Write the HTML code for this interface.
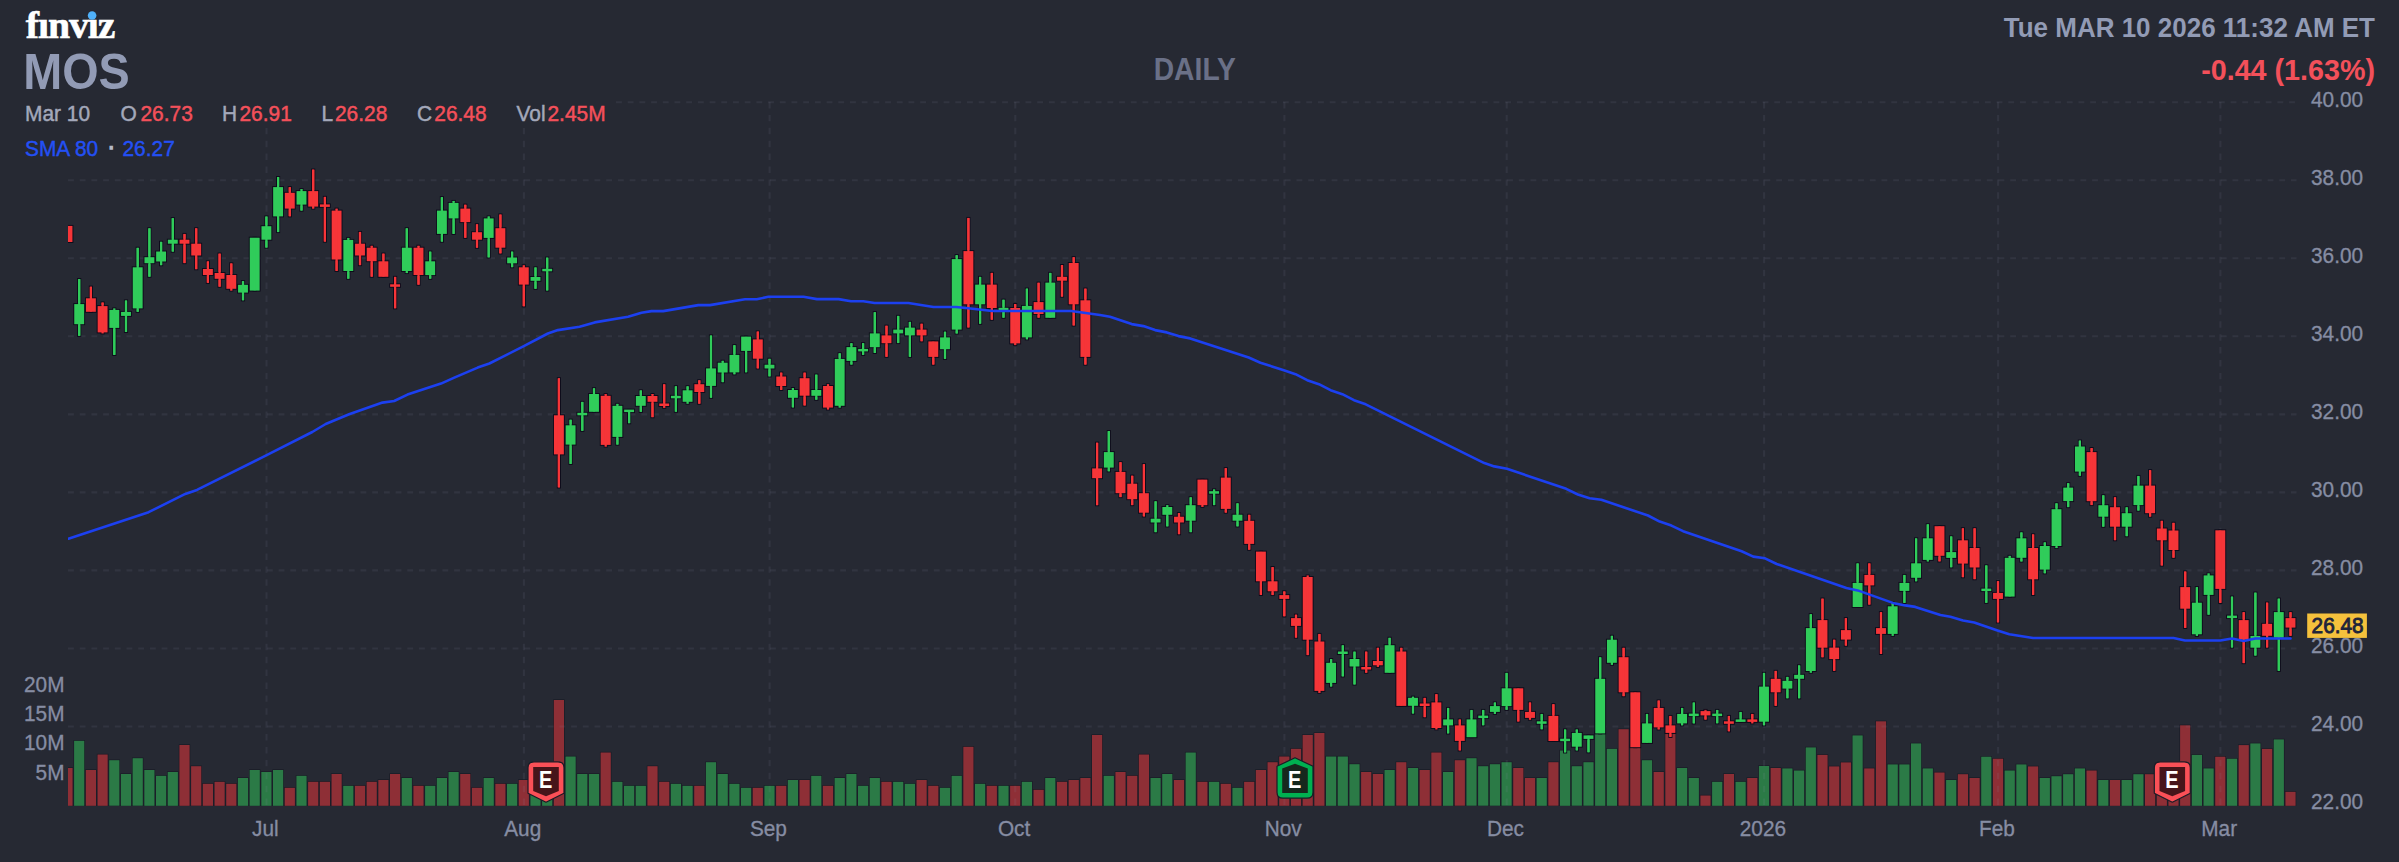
<!DOCTYPE html>
<html lang="en"><head><meta charset="utf-8"><title>MOS Daily Chart - finviz</title>
<style>html,body{margin:0;padding:0;background:#262933;}body{width:2399px;height:862px;overflow:hidden;font-family:"Liberation Sans",Arial,sans-serif;}svg{display:block}</style>
</head><body>
<svg width="2399" height="862" viewBox="0 0 2399 862" font-family="'Liberation Sans', Arial, sans-serif">
<rect width="2399" height="862" fill="#262933"/>
<defs><clipPath id="plot"><rect x="68" y="95" width="2232" height="711"/></clipPath></defs>
<g clip-path="url(#plot)">
<g stroke="#171924" stroke-width="1.2" paint-order="stroke">
<rect x="62.4" y="768.0" width="10.2" height="37.8" fill="#8e2f36"/>
<rect x="74.1" y="740.8" width="10.2" height="65.0" fill="#2b7a46"/>
<rect x="85.8" y="770.0" width="10.2" height="35.8" fill="#8e2f36"/>
<rect x="97.5" y="754.5" width="10.2" height="51.3" fill="#8e2f36"/>
<rect x="109.2" y="760.2" width="10.2" height="45.5" fill="#2b7a46"/>
<rect x="120.9" y="774.0" width="10.2" height="31.8" fill="#2b7a46"/>
<rect x="132.6" y="758.2" width="10.2" height="47.5" fill="#2b7a46"/>
<rect x="144.3" y="770.0" width="10.2" height="35.8" fill="#2b7a46"/>
<rect x="156.0" y="775.8" width="10.2" height="30.0" fill="#2b7a46"/>
<rect x="167.7" y="772.0" width="10.2" height="33.8" fill="#2b7a46"/>
<rect x="179.4" y="745.0" width="10.2" height="60.8" fill="#8e2f36"/>
<rect x="191.1" y="766.2" width="10.2" height="39.5" fill="#8e2f36"/>
<rect x="202.8" y="783.8" width="10.2" height="22.0" fill="#8e2f36"/>
<rect x="214.5" y="781.8" width="10.2" height="24.0" fill="#8e2f36"/>
<rect x="226.2" y="783.8" width="10.2" height="22.0" fill="#8e2f36"/>
<rect x="237.9" y="778.0" width="10.2" height="27.8" fill="#2b7a46"/>
<rect x="249.6" y="770.0" width="10.2" height="35.8" fill="#2b7a46"/>
<rect x="261.3" y="772.0" width="10.2" height="33.8" fill="#2b7a46"/>
<rect x="273.0" y="770.0" width="10.2" height="35.8" fill="#2b7a46"/>
<rect x="284.7" y="787.8" width="10.2" height="18.0" fill="#8e2f36"/>
<rect x="296.4" y="775.8" width="10.2" height="30.0" fill="#2b7a46"/>
<rect x="308.1" y="781.8" width="10.2" height="24.0" fill="#8e2f36"/>
<rect x="319.8" y="781.8" width="10.2" height="24.0" fill="#8e2f36"/>
<rect x="331.5" y="774.0" width="10.2" height="31.8" fill="#8e2f36"/>
<rect x="343.2" y="785.8" width="10.2" height="20.0" fill="#2b7a46"/>
<rect x="354.9" y="785.8" width="10.2" height="20.0" fill="#8e2f36"/>
<rect x="366.6" y="781.8" width="10.2" height="24.0" fill="#8e2f36"/>
<rect x="378.3" y="780.0" width="10.2" height="25.8" fill="#8e2f36"/>
<rect x="390.0" y="774.0" width="10.2" height="31.8" fill="#8e2f36"/>
<rect x="401.7" y="778.0" width="10.2" height="27.8" fill="#2b7a46"/>
<rect x="413.4" y="785.8" width="10.2" height="20.0" fill="#8e2f36"/>
<rect x="425.1" y="785.8" width="10.2" height="20.0" fill="#2b7a46"/>
<rect x="436.8" y="778.0" width="10.2" height="27.8" fill="#2b7a46"/>
<rect x="448.5" y="772.0" width="10.2" height="33.8" fill="#2b7a46"/>
<rect x="460.2" y="774.0" width="10.2" height="31.8" fill="#8e2f36"/>
<rect x="471.9" y="787.8" width="10.2" height="18.0" fill="#8e2f36"/>
<rect x="483.6" y="778.0" width="10.2" height="27.8" fill="#2b7a46"/>
<rect x="495.3" y="783.8" width="10.2" height="22.0" fill="#8e2f36"/>
<rect x="507.0" y="783.8" width="10.2" height="22.0" fill="#2b7a46"/>
<rect x="518.7" y="780.0" width="10.2" height="25.8" fill="#8e2f36"/>
<rect x="530.4" y="782.5" width="10.2" height="23.3" fill="#2b7a46"/>
<rect x="542.1" y="782.5" width="10.2" height="23.3" fill="#2b7a46"/>
<rect x="553.8" y="700.0" width="10.2" height="105.8" fill="#8e2f36"/>
<rect x="565.5" y="756.5" width="10.2" height="49.3" fill="#2b7a46"/>
<rect x="577.2" y="774.0" width="10.2" height="31.8" fill="#2b7a46"/>
<rect x="588.9" y="774.0" width="10.2" height="31.8" fill="#2b7a46"/>
<rect x="600.6" y="752.5" width="10.2" height="53.3" fill="#8e2f36"/>
<rect x="612.3" y="781.8" width="10.2" height="24.0" fill="#2b7a46"/>
<rect x="624.0" y="785.8" width="10.2" height="20.0" fill="#2b7a46"/>
<rect x="635.7" y="785.8" width="10.2" height="20.0" fill="#2b7a46"/>
<rect x="647.4" y="766.2" width="10.2" height="39.5" fill="#8e2f36"/>
<rect x="659.1" y="781.8" width="10.2" height="24.0" fill="#8e2f36"/>
<rect x="670.8" y="783.8" width="10.2" height="22.0" fill="#2b7a46"/>
<rect x="682.5" y="785.8" width="10.2" height="20.0" fill="#2b7a46"/>
<rect x="694.2" y="785.8" width="10.2" height="20.0" fill="#8e2f36"/>
<rect x="705.9" y="762.2" width="10.2" height="43.5" fill="#2b7a46"/>
<rect x="717.6" y="774.0" width="10.2" height="31.8" fill="#2b7a46"/>
<rect x="729.3" y="783.8" width="10.2" height="22.0" fill="#2b7a46"/>
<rect x="741.0" y="787.8" width="10.2" height="18.0" fill="#2b7a46"/>
<rect x="752.7" y="787.8" width="10.2" height="18.0" fill="#8e2f36"/>
<rect x="764.4" y="785.8" width="10.2" height="20.0" fill="#2b7a46"/>
<rect x="776.1" y="785.8" width="10.2" height="20.0" fill="#8e2f36"/>
<rect x="787.8" y="780.0" width="10.2" height="25.8" fill="#2b7a46"/>
<rect x="799.5" y="780.0" width="10.2" height="25.8" fill="#8e2f36"/>
<rect x="811.2" y="775.8" width="10.2" height="30.0" fill="#2b7a46"/>
<rect x="822.9" y="785.8" width="10.2" height="20.0" fill="#8e2f36"/>
<rect x="834.6" y="778.0" width="10.2" height="27.8" fill="#2b7a46"/>
<rect x="846.3" y="774.0" width="10.2" height="31.8" fill="#2b7a46"/>
<rect x="858.0" y="785.8" width="10.2" height="20.0" fill="#2b7a46"/>
<rect x="869.7" y="778.0" width="10.2" height="27.8" fill="#2b7a46"/>
<rect x="881.4" y="781.8" width="10.2" height="24.0" fill="#8e2f36"/>
<rect x="893.1" y="781.8" width="10.2" height="24.0" fill="#2b7a46"/>
<rect x="904.8" y="783.8" width="10.2" height="22.0" fill="#2b7a46"/>
<rect x="916.5" y="780.0" width="10.2" height="25.8" fill="#8e2f36"/>
<rect x="928.2" y="785.8" width="10.2" height="20.0" fill="#8e2f36"/>
<rect x="939.9" y="787.8" width="10.2" height="18.0" fill="#2b7a46"/>
<rect x="951.6" y="775.8" width="10.2" height="30.0" fill="#2b7a46"/>
<rect x="963.3" y="746.8" width="10.2" height="59.0" fill="#8e2f36"/>
<rect x="975.0" y="783.8" width="10.2" height="22.0" fill="#2b7a46"/>
<rect x="986.7" y="785.8" width="10.2" height="20.0" fill="#8e2f36"/>
<rect x="998.4" y="785.8" width="10.2" height="20.0" fill="#2b7a46"/>
<rect x="1010.1" y="785.8" width="10.2" height="20.0" fill="#8e2f36"/>
<rect x="1021.8" y="781.8" width="10.2" height="24.0" fill="#2b7a46"/>
<rect x="1033.5" y="789.8" width="10.2" height="16.0" fill="#8e2f36"/>
<rect x="1045.2" y="778.0" width="10.2" height="27.8" fill="#2b7a46"/>
<rect x="1056.9" y="781.8" width="10.2" height="24.0" fill="#8e2f36"/>
<rect x="1068.6" y="780.0" width="10.2" height="25.8" fill="#8e2f36"/>
<rect x="1080.3" y="778.0" width="10.2" height="27.8" fill="#8e2f36"/>
<rect x="1092.0" y="735.0" width="10.2" height="70.8" fill="#8e2f36"/>
<rect x="1103.7" y="775.8" width="10.2" height="30.0" fill="#2b7a46"/>
<rect x="1115.4" y="772.0" width="10.2" height="33.8" fill="#8e2f36"/>
<rect x="1127.1" y="775.8" width="10.2" height="30.0" fill="#8e2f36"/>
<rect x="1138.8" y="754.5" width="10.2" height="51.3" fill="#8e2f36"/>
<rect x="1150.5" y="778.0" width="10.2" height="27.8" fill="#2b7a46"/>
<rect x="1162.2" y="774.0" width="10.2" height="31.8" fill="#2b7a46"/>
<rect x="1173.9" y="780.0" width="10.2" height="25.8" fill="#8e2f36"/>
<rect x="1185.6" y="752.5" width="10.2" height="53.3" fill="#2b7a46"/>
<rect x="1197.3" y="781.8" width="10.2" height="24.0" fill="#8e2f36"/>
<rect x="1209.0" y="781.8" width="10.2" height="24.0" fill="#2b7a46"/>
<rect x="1220.7" y="783.8" width="10.2" height="22.0" fill="#8e2f36"/>
<rect x="1232.4" y="787.8" width="10.2" height="18.0" fill="#2b7a46"/>
<rect x="1244.1" y="781.8" width="10.2" height="24.0" fill="#8e2f36"/>
<rect x="1255.8" y="770.0" width="10.2" height="35.8" fill="#8e2f36"/>
<rect x="1267.5" y="762.2" width="10.2" height="43.5" fill="#8e2f36"/>
<rect x="1279.2" y="756.5" width="10.2" height="49.3" fill="#8e2f36"/>
<rect x="1290.9" y="748.8" width="10.2" height="57.0" fill="#8e2f36"/>
<rect x="1302.6" y="735.0" width="10.2" height="70.8" fill="#8e2f36"/>
<rect x="1314.3" y="733.0" width="10.2" height="72.8" fill="#8e2f36"/>
<rect x="1326.0" y="756.5" width="10.2" height="49.3" fill="#2b7a46"/>
<rect x="1337.7" y="756.5" width="10.2" height="49.3" fill="#2b7a46"/>
<rect x="1349.4" y="764.2" width="10.2" height="41.5" fill="#2b7a46"/>
<rect x="1361.1" y="772.0" width="10.2" height="33.8" fill="#8e2f36"/>
<rect x="1372.8" y="774.0" width="10.2" height="31.8" fill="#8e2f36"/>
<rect x="1384.5" y="770.0" width="10.2" height="35.8" fill="#2b7a46"/>
<rect x="1396.2" y="762.2" width="10.2" height="43.5" fill="#8e2f36"/>
<rect x="1407.9" y="768.0" width="10.2" height="37.8" fill="#2b7a46"/>
<rect x="1419.6" y="770.0" width="10.2" height="35.8" fill="#8e2f36"/>
<rect x="1431.3" y="752.5" width="10.2" height="53.3" fill="#8e2f36"/>
<rect x="1443.0" y="772.0" width="10.2" height="33.8" fill="#2b7a46"/>
<rect x="1454.7" y="760.2" width="10.2" height="45.5" fill="#8e2f36"/>
<rect x="1466.4" y="758.2" width="10.2" height="47.5" fill="#2b7a46"/>
<rect x="1478.1" y="766.2" width="10.2" height="39.5" fill="#2b7a46"/>
<rect x="1489.8" y="764.2" width="10.2" height="41.5" fill="#2b7a46"/>
<rect x="1501.5" y="762.2" width="10.2" height="43.5" fill="#2b7a46"/>
<rect x="1513.2" y="768.0" width="10.2" height="37.8" fill="#8e2f36"/>
<rect x="1524.9" y="778.0" width="10.2" height="27.8" fill="#8e2f36"/>
<rect x="1536.6" y="778.0" width="10.2" height="27.8" fill="#2b7a46"/>
<rect x="1548.3" y="762.2" width="10.2" height="43.5" fill="#8e2f36"/>
<rect x="1560.0" y="750.5" width="10.2" height="55.3" fill="#2b7a46"/>
<rect x="1571.7" y="766.2" width="10.2" height="39.5" fill="#2b7a46"/>
<rect x="1583.4" y="762.2" width="10.2" height="43.5" fill="#2b7a46"/>
<rect x="1595.1" y="732.5" width="10.2" height="73.3" fill="#2b7a46"/>
<rect x="1606.8" y="748.8" width="10.2" height="57.0" fill="#2b7a46"/>
<rect x="1618.5" y="729.2" width="10.2" height="76.5" fill="#8e2f36"/>
<rect x="1630.2" y="745.0" width="10.2" height="60.8" fill="#8e2f36"/>
<rect x="1641.9" y="760.2" width="10.2" height="45.5" fill="#2b7a46"/>
<rect x="1653.6" y="772.0" width="10.2" height="33.8" fill="#8e2f36"/>
<rect x="1665.3" y="733.8" width="10.2" height="72.0" fill="#8e2f36"/>
<rect x="1677.0" y="768.0" width="10.2" height="37.8" fill="#2b7a46"/>
<rect x="1688.7" y="778.0" width="10.2" height="27.8" fill="#2b7a46"/>
<rect x="1700.4" y="795.5" width="10.2" height="10.3" fill="#8e2f36"/>
<rect x="1712.1" y="781.8" width="10.2" height="24.0" fill="#2b7a46"/>
<rect x="1723.8" y="774.0" width="10.2" height="31.8" fill="#8e2f36"/>
<rect x="1735.5" y="781.8" width="10.2" height="24.0" fill="#2b7a46"/>
<rect x="1747.2" y="778.0" width="10.2" height="27.8" fill="#8e2f36"/>
<rect x="1758.9" y="766.0" width="10.2" height="39.8" fill="#2b7a46"/>
<rect x="1770.6" y="768.0" width="10.2" height="37.8" fill="#8e2f36"/>
<rect x="1782.3" y="768.4" width="10.2" height="37.4" fill="#2b7a46"/>
<rect x="1794.0" y="770.5" width="10.2" height="35.3" fill="#2b7a46"/>
<rect x="1805.7" y="747.4" width="10.2" height="58.4" fill="#2b7a46"/>
<rect x="1817.4" y="754.9" width="10.2" height="50.9" fill="#8e2f36"/>
<rect x="1829.1" y="766.4" width="10.2" height="39.4" fill="#8e2f36"/>
<rect x="1840.8" y="762.4" width="10.2" height="43.4" fill="#8e2f36"/>
<rect x="1852.5" y="735.4" width="10.2" height="70.4" fill="#2b7a46"/>
<rect x="1864.2" y="768.4" width="10.2" height="37.4" fill="#8e2f36"/>
<rect x="1875.9" y="721.3" width="10.2" height="84.5" fill="#8e2f36"/>
<rect x="1887.6" y="764.4" width="10.2" height="41.4" fill="#2b7a46"/>
<rect x="1899.3" y="764.4" width="10.2" height="41.4" fill="#2b7a46"/>
<rect x="1911.0" y="743.4" width="10.2" height="62.4" fill="#2b7a46"/>
<rect x="1922.7" y="768.4" width="10.2" height="37.4" fill="#2b7a46"/>
<rect x="1934.4" y="772.5" width="10.2" height="33.3" fill="#8e2f36"/>
<rect x="1946.1" y="780.0" width="10.2" height="25.8" fill="#2b7a46"/>
<rect x="1957.8" y="774.2" width="10.2" height="31.6" fill="#8e2f36"/>
<rect x="1969.5" y="778.0" width="10.2" height="27.8" fill="#8e2f36"/>
<rect x="1981.2" y="756.7" width="10.2" height="49.1" fill="#2b7a46"/>
<rect x="1992.9" y="758.7" width="10.2" height="47.1" fill="#8e2f36"/>
<rect x="2004.6" y="770.5" width="10.2" height="35.3" fill="#2b7a46"/>
<rect x="2016.3" y="764.4" width="10.2" height="41.4" fill="#2b7a46"/>
<rect x="2028.0" y="766.4" width="10.2" height="39.4" fill="#8e2f36"/>
<rect x="2039.7" y="778.0" width="10.2" height="27.8" fill="#2b7a46"/>
<rect x="2051.4" y="776.2" width="10.2" height="29.6" fill="#2b7a46"/>
<rect x="2063.1" y="774.2" width="10.2" height="31.6" fill="#2b7a46"/>
<rect x="2074.8" y="768.4" width="10.2" height="37.4" fill="#2b7a46"/>
<rect x="2086.5" y="770.5" width="10.2" height="35.3" fill="#8e2f36"/>
<rect x="2098.2" y="780.0" width="10.2" height="25.8" fill="#2b7a46"/>
<rect x="2109.9" y="780.0" width="10.2" height="25.8" fill="#8e2f36"/>
<rect x="2121.6" y="780.0" width="10.2" height="25.8" fill="#2b7a46"/>
<rect x="2133.3" y="774.2" width="10.2" height="31.6" fill="#2b7a46"/>
<rect x="2145.0" y="774.2" width="10.2" height="31.6" fill="#8e2f36"/>
<rect x="2156.7" y="775.5" width="10.2" height="30.3" fill="#8e2f36"/>
<rect x="2168.4" y="775.5" width="10.2" height="30.3" fill="#8e2f36"/>
<rect x="2180.1" y="725.3" width="10.2" height="80.5" fill="#8e2f36"/>
<rect x="2191.8" y="754.9" width="10.2" height="50.9" fill="#2b7a46"/>
<rect x="2203.5" y="768.4" width="10.2" height="37.4" fill="#2b7a46"/>
<rect x="2215.2" y="756.7" width="10.2" height="49.1" fill="#8e2f36"/>
<rect x="2226.9" y="758.7" width="10.2" height="47.1" fill="#2b7a46"/>
<rect x="2238.6" y="745.1" width="10.2" height="60.7" fill="#8e2f36"/>
<rect x="2250.3" y="743.4" width="10.2" height="62.4" fill="#2b7a46"/>
<rect x="2262.0" y="748.9" width="10.2" height="56.9" fill="#8e2f36"/>
<rect x="2273.7" y="739.4" width="10.2" height="66.4" fill="#2b7a46"/>
<rect x="2285.4" y="791.8" width="10.2" height="14.0" fill="#8e2f36"/>
</g>
<g stroke="#8b91aa" stroke-opacity="0.115" stroke-width="2.1" fill="none">
<path d="M616 102.2H2296.5" stroke-dasharray="5.85 5.85"/>
<path d="M68 180.3H2296.5" stroke-dasharray="5.85 5.85"/>
<path d="M68 258.3H2296.5" stroke-dasharray="5.85 5.85"/>
<path d="M68 336.3H2296.5" stroke-dasharray="5.85 5.85"/>
<path d="M68 414.4H2296.5" stroke-dasharray="5.85 5.85"/>
<path d="M68 492.4H2296.5" stroke-dasharray="5.85 5.85"/>
<path d="M68 570.4H2296.5" stroke-dasharray="5.85 5.85"/>
<path d="M68 648.5H2296.5" stroke-dasharray="5.85 5.85"/>
<path d="M68 726.5H2296.5" stroke-dasharray="5.85 5.85"/>
<path d="M266.5 128V805" stroke-dasharray="6.45 6.45" stroke-dashoffset="0.2"/>
<path d="M523.9 128V805" stroke-dasharray="6.45 6.45" stroke-dashoffset="0.2"/>
<path d="M769.6 102V805" stroke-dasharray="6.45 6.45" stroke-dashoffset="0.0"/>
<path d="M1015.3 102V805" stroke-dasharray="6.45 6.45" stroke-dashoffset="0.0"/>
<path d="M1284.4 102V805" stroke-dasharray="6.45 6.45" stroke-dashoffset="0.0"/>
<path d="M1506.7 102V805" stroke-dasharray="6.45 6.45" stroke-dashoffset="0.0"/>
<path d="M1764.1 102V805" stroke-dasharray="6.45 6.45" stroke-dashoffset="0.0"/>
<path d="M1998.1 102V805" stroke-dasharray="6.45 6.45" stroke-dashoffset="0.0"/>
<path d="M2220.4 102V805" stroke-dasharray="6.45 6.45" stroke-dashoffset="0.0"/>
</g>
<g stroke="#0e0b1b" stroke-width="1.9" paint-order="stroke">
<rect x="62.55" y="225.9" width="9.9" height="16.1" fill="#f63538"/>
<rect x="78.10" y="279.0" width="2.2" height="56.9" fill="#30cc5a"/>
<rect x="74.25" y="304.1" width="9.9" height="20.1" fill="#30cc5a"/>
<rect x="78.10" y="279.3" width="2.2" height="56.3" fill="#30cc5a" stroke="none"/>
<rect x="89.80" y="286.6" width="2.2" height="25.3" fill="#f63538"/>
<rect x="85.95" y="298.3" width="9.9" height="13.5" fill="#f63538"/>
<rect x="89.80" y="286.9" width="2.2" height="24.7" fill="#f63538" stroke="none"/>
<rect x="101.50" y="302.4" width="2.2" height="31.1" fill="#f63538"/>
<rect x="97.65" y="306.1" width="9.9" height="26.3" fill="#f63538"/>
<rect x="101.50" y="302.7" width="2.2" height="30.5" fill="#f63538" stroke="none"/>
<rect x="113.20" y="308.4" width="2.2" height="46.6" fill="#30cc5a"/>
<rect x="109.35" y="309.9" width="9.9" height="18.0" fill="#30cc5a"/>
<rect x="113.20" y="308.7" width="2.2" height="46.0" fill="#30cc5a" stroke="none"/>
<rect x="124.90" y="300.4" width="2.2" height="31.6" fill="#30cc5a"/>
<rect x="121.05" y="311.9" width="9.9" height="4.0" fill="#30cc5a"/>
<rect x="124.90" y="300.7" width="2.2" height="31.0" fill="#30cc5a" stroke="none"/>
<rect x="136.60" y="247.7" width="2.2" height="64.2" fill="#30cc5a"/>
<rect x="132.75" y="267.3" width="9.9" height="41.1" fill="#30cc5a"/>
<rect x="136.60" y="248.0" width="2.2" height="63.6" fill="#30cc5a" stroke="none"/>
<rect x="148.30" y="228.2" width="2.2" height="48.6" fill="#30cc5a"/>
<rect x="144.45" y="257.2" width="9.9" height="6.0" fill="#30cc5a"/>
<rect x="148.30" y="228.5" width="2.2" height="48.0" fill="#30cc5a" stroke="none"/>
<rect x="160.00" y="241.7" width="2.2" height="23.6" fill="#30cc5a"/>
<rect x="156.15" y="251.5" width="9.9" height="10.0" fill="#30cc5a"/>
<rect x="160.00" y="242.0" width="2.2" height="23.0" fill="#30cc5a" stroke="none"/>
<rect x="171.70" y="218.1" width="2.2" height="33.6" fill="#30cc5a"/>
<rect x="167.85" y="239.7" width="9.9" height="4.0" fill="#30cc5a"/>
<rect x="171.70" y="218.4" width="2.2" height="33.0" fill="#30cc5a" stroke="none"/>
<rect x="183.40" y="233.9" width="2.2" height="29.3" fill="#f63538"/>
<rect x="179.55" y="239.7" width="9.9" height="4.0" fill="#f63538"/>
<rect x="183.40" y="234.2" width="2.2" height="28.7" fill="#f63538" stroke="none"/>
<rect x="195.10" y="228.2" width="2.2" height="41.1" fill="#f63538"/>
<rect x="191.25" y="243.7" width="9.9" height="11.8" fill="#f63538"/>
<rect x="195.10" y="228.5" width="2.2" height="40.5" fill="#f63538" stroke="none"/>
<rect x="206.80" y="261.3" width="2.2" height="21.6" fill="#f63538"/>
<rect x="202.95" y="269.0" width="9.9" height="6.0" fill="#f63538"/>
<rect x="206.80" y="261.6" width="2.2" height="21.0" fill="#f63538" stroke="none"/>
<rect x="218.50" y="253.5" width="2.2" height="33.3" fill="#f63538"/>
<rect x="214.65" y="273.0" width="9.9" height="5.8" fill="#f63538"/>
<rect x="218.50" y="253.8" width="2.2" height="32.7" fill="#f63538" stroke="none"/>
<rect x="230.20" y="263.3" width="2.2" height="27.3" fill="#f63538"/>
<rect x="226.35" y="275.0" width="9.9" height="13.8" fill="#f63538"/>
<rect x="230.20" y="263.6" width="2.2" height="26.7" fill="#f63538" stroke="none"/>
<rect x="241.90" y="281.1" width="2.2" height="19.3" fill="#30cc5a"/>
<rect x="238.05" y="284.8" width="9.9" height="7.8" fill="#30cc5a"/>
<rect x="241.90" y="281.4" width="2.2" height="18.7" fill="#30cc5a" stroke="none"/>
<rect x="253.60" y="237.7" width="2.2" height="52.9" fill="#30cc5a"/>
<rect x="249.75" y="237.7" width="9.9" height="52.9" fill="#30cc5a"/>
<rect x="253.60" y="238.0" width="2.2" height="52.3" fill="#30cc5a" stroke="none"/>
<rect x="265.30" y="216.4" width="2.2" height="31.3" fill="#30cc5a"/>
<rect x="261.45" y="226.2" width="9.9" height="13.5" fill="#30cc5a"/>
<rect x="265.30" y="216.7" width="2.2" height="30.7" fill="#30cc5a" stroke="none"/>
<rect x="277.00" y="177.0" width="2.2" height="55.1" fill="#30cc5a"/>
<rect x="273.15" y="187.1" width="9.9" height="29.3" fill="#30cc5a"/>
<rect x="277.00" y="177.3" width="2.2" height="54.5" fill="#30cc5a" stroke="none"/>
<rect x="288.70" y="187.1" width="2.2" height="29.3" fill="#f63538"/>
<rect x="284.85" y="192.8" width="9.9" height="15.8" fill="#f63538"/>
<rect x="288.70" y="187.4" width="2.2" height="28.7" fill="#f63538" stroke="none"/>
<rect x="300.40" y="189.1" width="2.2" height="21.6" fill="#30cc5a"/>
<rect x="296.55" y="191.1" width="9.9" height="13.5" fill="#30cc5a"/>
<rect x="300.40" y="189.4" width="2.2" height="21.0" fill="#30cc5a" stroke="none"/>
<rect x="312.10" y="169.5" width="2.2" height="39.1" fill="#f63538"/>
<rect x="308.25" y="191.1" width="9.9" height="15.5" fill="#f63538"/>
<rect x="312.10" y="169.8" width="2.2" height="38.5" fill="#f63538" stroke="none"/>
<rect x="323.80" y="196.8" width="2.2" height="44.9" fill="#f63538"/>
<rect x="319.95" y="204.4" width="9.9" height="2.5" fill="#f63538"/>
<rect x="323.80" y="197.1" width="2.2" height="44.3" fill="#f63538" stroke="none"/>
<rect x="335.50" y="208.6" width="2.2" height="62.4" fill="#f63538"/>
<rect x="331.65" y="210.6" width="9.9" height="48.9" fill="#f63538"/>
<rect x="335.50" y="208.9" width="2.2" height="61.8" fill="#f63538" stroke="none"/>
<rect x="347.20" y="237.9" width="2.2" height="40.9" fill="#30cc5a"/>
<rect x="343.35" y="239.9" width="9.9" height="31.1" fill="#30cc5a"/>
<rect x="347.20" y="238.2" width="2.2" height="40.3" fill="#30cc5a" stroke="none"/>
<rect x="358.90" y="231.9" width="2.2" height="33.3" fill="#f63538"/>
<rect x="355.05" y="243.7" width="9.9" height="11.8" fill="#f63538"/>
<rect x="358.90" y="232.2" width="2.2" height="32.7" fill="#f63538" stroke="none"/>
<rect x="370.60" y="245.7" width="2.2" height="31.1" fill="#f63538"/>
<rect x="366.75" y="247.7" width="9.9" height="13.5" fill="#f63538"/>
<rect x="370.60" y="246.0" width="2.2" height="30.5" fill="#f63538" stroke="none"/>
<rect x="382.30" y="253.5" width="2.2" height="23.3" fill="#f63538"/>
<rect x="378.45" y="261.3" width="9.9" height="15.5" fill="#f63538"/>
<rect x="382.30" y="253.8" width="2.2" height="22.7" fill="#f63538" stroke="none"/>
<rect x="394.00" y="276.8" width="2.2" height="31.6" fill="#f63538"/>
<rect x="390.15" y="284.3" width="9.9" height="2.5" fill="#f63538"/>
<rect x="394.00" y="277.1" width="2.2" height="31.0" fill="#f63538" stroke="none"/>
<rect x="405.70" y="228.2" width="2.2" height="44.9" fill="#30cc5a"/>
<rect x="401.85" y="247.7" width="9.9" height="23.3" fill="#30cc5a"/>
<rect x="405.70" y="228.5" width="2.2" height="44.3" fill="#30cc5a" stroke="none"/>
<rect x="417.40" y="245.7" width="2.2" height="39.1" fill="#f63538"/>
<rect x="413.55" y="247.7" width="9.9" height="27.3" fill="#f63538"/>
<rect x="417.40" y="246.0" width="2.2" height="38.5" fill="#f63538" stroke="none"/>
<rect x="429.10" y="251.5" width="2.2" height="27.3" fill="#30cc5a"/>
<rect x="425.25" y="261.3" width="9.9" height="13.8" fill="#30cc5a"/>
<rect x="429.10" y="251.8" width="2.2" height="26.7" fill="#30cc5a" stroke="none"/>
<rect x="440.80" y="197.1" width="2.2" height="44.6" fill="#30cc5a"/>
<rect x="436.95" y="210.6" width="9.9" height="23.3" fill="#30cc5a"/>
<rect x="440.80" y="197.4" width="2.2" height="44.0" fill="#30cc5a" stroke="none"/>
<rect x="452.50" y="200.9" width="2.2" height="33.1" fill="#30cc5a"/>
<rect x="448.65" y="202.9" width="9.9" height="15.5" fill="#30cc5a"/>
<rect x="452.50" y="201.2" width="2.2" height="32.5" fill="#30cc5a" stroke="none"/>
<rect x="464.20" y="204.6" width="2.2" height="33.3" fill="#f63538"/>
<rect x="460.35" y="208.6" width="9.9" height="13.5" fill="#f63538"/>
<rect x="464.20" y="204.9" width="2.2" height="32.7" fill="#f63538" stroke="none"/>
<rect x="475.90" y="224.2" width="2.2" height="23.6" fill="#f63538"/>
<rect x="472.05" y="232.2" width="9.9" height="7.5" fill="#f63538"/>
<rect x="475.90" y="224.5" width="2.2" height="23.0" fill="#f63538" stroke="none"/>
<rect x="487.60" y="216.4" width="2.2" height="41.1" fill="#30cc5a"/>
<rect x="483.75" y="218.4" width="9.9" height="19.5" fill="#30cc5a"/>
<rect x="487.60" y="216.7" width="2.2" height="40.5" fill="#30cc5a" stroke="none"/>
<rect x="499.30" y="214.4" width="2.2" height="39.1" fill="#f63538"/>
<rect x="495.45" y="228.2" width="9.9" height="19.5" fill="#f63538"/>
<rect x="499.30" y="214.7" width="2.2" height="38.5" fill="#f63538" stroke="none"/>
<rect x="511.00" y="251.5" width="2.2" height="15.8" fill="#30cc5a"/>
<rect x="507.15" y="257.5" width="9.9" height="5.8" fill="#30cc5a"/>
<rect x="511.00" y="251.8" width="2.2" height="15.2" fill="#30cc5a" stroke="none"/>
<rect x="522.70" y="265.3" width="2.2" height="41.1" fill="#f63538"/>
<rect x="518.85" y="267.3" width="9.9" height="17.3" fill="#f63538"/>
<rect x="522.70" y="265.6" width="2.2" height="40.5" fill="#f63538" stroke="none"/>
<rect x="534.40" y="267.3" width="2.2" height="21.6" fill="#30cc5a"/>
<rect x="530.55" y="277.0" width="9.9" height="3.8" fill="#30cc5a"/>
<rect x="534.40" y="267.6" width="2.2" height="21.0" fill="#30cc5a" stroke="none"/>
<rect x="546.10" y="257.5" width="2.2" height="33.1" fill="#30cc5a"/>
<rect x="542.25" y="268.8" width="9.9" height="2.5" fill="#30cc5a"/>
<rect x="546.10" y="257.8" width="2.2" height="32.5" fill="#30cc5a" stroke="none"/>
<rect x="557.80" y="378.2" width="2.2" height="109.3" fill="#f63538"/>
<rect x="553.95" y="415.3" width="9.9" height="39.1" fill="#f63538"/>
<rect x="557.80" y="378.5" width="2.2" height="108.7" fill="#f63538" stroke="none"/>
<rect x="569.50" y="419.6" width="2.2" height="44.4" fill="#30cc5a"/>
<rect x="565.65" y="425.3" width="9.9" height="19.3" fill="#30cc5a"/>
<rect x="569.50" y="419.9" width="2.2" height="43.8" fill="#30cc5a" stroke="none"/>
<rect x="581.20" y="401.8" width="2.2" height="29.1" fill="#30cc5a"/>
<rect x="577.35" y="412.8" width="9.9" height="2.5" fill="#30cc5a"/>
<rect x="581.20" y="402.1" width="2.2" height="28.5" fill="#30cc5a" stroke="none"/>
<rect x="592.90" y="388.2" width="2.2" height="23.6" fill="#30cc5a"/>
<rect x="589.05" y="394.0" width="9.9" height="17.8" fill="#30cc5a"/>
<rect x="592.90" y="388.5" width="2.2" height="23.0" fill="#30cc5a" stroke="none"/>
<rect x="604.60" y="394.0" width="2.2" height="52.6" fill="#f63538"/>
<rect x="600.75" y="395.8" width="9.9" height="49.1" fill="#f63538"/>
<rect x="604.60" y="394.3" width="2.2" height="52.0" fill="#f63538" stroke="none"/>
<rect x="616.30" y="403.8" width="2.2" height="40.9" fill="#30cc5a"/>
<rect x="612.45" y="405.8" width="9.9" height="31.1" fill="#30cc5a"/>
<rect x="616.30" y="404.1" width="2.2" height="40.3" fill="#30cc5a" stroke="none"/>
<rect x="628.00" y="409.8" width="2.2" height="13.5" fill="#30cc5a"/>
<rect x="624.15" y="409.6" width="9.9" height="2.5" fill="#30cc5a"/>
<rect x="628.00" y="410.1" width="2.2" height="12.9" fill="#30cc5a" stroke="none"/>
<rect x="639.70" y="390.3" width="2.2" height="21.6" fill="#30cc5a"/>
<rect x="635.85" y="396.0" width="9.9" height="9.8" fill="#30cc5a"/>
<rect x="639.70" y="390.6" width="2.2" height="21.0" fill="#30cc5a" stroke="none"/>
<rect x="651.40" y="394.0" width="2.2" height="23.3" fill="#f63538"/>
<rect x="647.55" y="396.0" width="9.9" height="5.8" fill="#f63538"/>
<rect x="651.40" y="394.3" width="2.2" height="22.7" fill="#f63538" stroke="none"/>
<rect x="663.10" y="384.2" width="2.2" height="23.6" fill="#f63538"/>
<rect x="659.25" y="403.5" width="9.9" height="2.5" fill="#f63538"/>
<rect x="663.10" y="384.5" width="2.2" height="23.0" fill="#f63538" stroke="none"/>
<rect x="674.80" y="386.2" width="2.2" height="25.6" fill="#30cc5a"/>
<rect x="670.95" y="395.8" width="9.9" height="2.5" fill="#30cc5a"/>
<rect x="674.80" y="386.5" width="2.2" height="25.0" fill="#30cc5a" stroke="none"/>
<rect x="686.50" y="386.2" width="2.2" height="17.5" fill="#30cc5a"/>
<rect x="682.65" y="390.3" width="9.9" height="11.5" fill="#30cc5a"/>
<rect x="686.50" y="386.5" width="2.2" height="16.9" fill="#30cc5a" stroke="none"/>
<rect x="698.20" y="380.2" width="2.2" height="23.6" fill="#f63538"/>
<rect x="694.35" y="384.2" width="9.9" height="7.8" fill="#f63538"/>
<rect x="698.20" y="380.5" width="2.2" height="23.0" fill="#f63538" stroke="none"/>
<rect x="709.90" y="335.4" width="2.2" height="62.4" fill="#30cc5a"/>
<rect x="706.05" y="368.4" width="9.9" height="17.5" fill="#30cc5a"/>
<rect x="709.90" y="335.7" width="2.2" height="61.8" fill="#30cc5a" stroke="none"/>
<rect x="721.60" y="360.7" width="2.2" height="21.6" fill="#30cc5a"/>
<rect x="717.75" y="362.7" width="9.9" height="9.8" fill="#30cc5a"/>
<rect x="721.60" y="361.0" width="2.2" height="21.0" fill="#30cc5a" stroke="none"/>
<rect x="733.30" y="345.1" width="2.2" height="29.3" fill="#30cc5a"/>
<rect x="729.45" y="354.9" width="9.9" height="17.5" fill="#30cc5a"/>
<rect x="733.30" y="345.4" width="2.2" height="28.7" fill="#30cc5a" stroke="none"/>
<rect x="745.00" y="336.6" width="2.2" height="35.8" fill="#30cc5a"/>
<rect x="741.15" y="336.6" width="9.9" height="14.3" fill="#30cc5a"/>
<rect x="745.00" y="336.9" width="2.2" height="35.2" fill="#30cc5a" stroke="none"/>
<rect x="756.70" y="331.4" width="2.2" height="37.1" fill="#f63538"/>
<rect x="752.85" y="339.4" width="9.9" height="19.3" fill="#f63538"/>
<rect x="756.70" y="331.7" width="2.2" height="36.5" fill="#f63538" stroke="none"/>
<rect x="768.40" y="358.7" width="2.2" height="17.8" fill="#30cc5a"/>
<rect x="764.55" y="364.7" width="9.9" height="3.8" fill="#30cc5a"/>
<rect x="768.40" y="359.0" width="2.2" height="17.2" fill="#30cc5a" stroke="none"/>
<rect x="780.10" y="372.5" width="2.2" height="17.5" fill="#f63538"/>
<rect x="776.25" y="376.5" width="9.9" height="9.5" fill="#f63538"/>
<rect x="780.10" y="372.8" width="2.2" height="16.9" fill="#f63538" stroke="none"/>
<rect x="791.80" y="388.0" width="2.2" height="19.5" fill="#30cc5a"/>
<rect x="787.95" y="390.0" width="9.9" height="7.8" fill="#30cc5a"/>
<rect x="791.80" y="388.3" width="2.2" height="18.9" fill="#30cc5a" stroke="none"/>
<rect x="803.50" y="372.5" width="2.2" height="33.1" fill="#f63538"/>
<rect x="799.65" y="378.2" width="9.9" height="17.5" fill="#f63538"/>
<rect x="803.50" y="372.8" width="2.2" height="32.5" fill="#f63538" stroke="none"/>
<rect x="815.20" y="374.5" width="2.2" height="25.3" fill="#30cc5a"/>
<rect x="811.35" y="390.0" width="9.9" height="5.8" fill="#30cc5a"/>
<rect x="815.20" y="374.8" width="2.2" height="24.7" fill="#30cc5a" stroke="none"/>
<rect x="826.90" y="384.2" width="2.2" height="25.3" fill="#f63538"/>
<rect x="823.05" y="386.0" width="9.9" height="21.6" fill="#f63538"/>
<rect x="826.90" y="384.5" width="2.2" height="24.7" fill="#f63538" stroke="none"/>
<rect x="838.60" y="353.2" width="2.2" height="54.4" fill="#30cc5a"/>
<rect x="834.75" y="358.9" width="9.9" height="46.9" fill="#30cc5a"/>
<rect x="838.60" y="353.5" width="2.2" height="53.8" fill="#30cc5a" stroke="none"/>
<rect x="850.30" y="343.1" width="2.2" height="21.6" fill="#30cc5a"/>
<rect x="846.45" y="347.1" width="9.9" height="13.8" fill="#30cc5a"/>
<rect x="850.30" y="343.4" width="2.2" height="21.0" fill="#30cc5a" stroke="none"/>
<rect x="862.00" y="343.1" width="2.2" height="11.8" fill="#30cc5a"/>
<rect x="858.15" y="348.9" width="9.9" height="2.5" fill="#30cc5a"/>
<rect x="862.00" y="343.4" width="2.2" height="11.2" fill="#30cc5a" stroke="none"/>
<rect x="873.70" y="312.1" width="2.2" height="40.9" fill="#30cc5a"/>
<rect x="869.85" y="333.4" width="9.9" height="13.8" fill="#30cc5a"/>
<rect x="873.70" y="312.4" width="2.2" height="40.3" fill="#30cc5a" stroke="none"/>
<rect x="885.40" y="325.6" width="2.2" height="31.3" fill="#f63538"/>
<rect x="881.55" y="335.4" width="9.9" height="7.8" fill="#f63538"/>
<rect x="885.40" y="325.9" width="2.2" height="30.7" fill="#f63538" stroke="none"/>
<rect x="897.10" y="315.8" width="2.2" height="27.3" fill="#30cc5a"/>
<rect x="893.25" y="329.6" width="9.9" height="3.8" fill="#30cc5a"/>
<rect x="897.10" y="316.1" width="2.2" height="26.7" fill="#30cc5a" stroke="none"/>
<rect x="908.80" y="321.8" width="2.2" height="35.1" fill="#30cc5a"/>
<rect x="904.95" y="327.6" width="9.9" height="7.8" fill="#30cc5a"/>
<rect x="908.80" y="322.1" width="2.2" height="34.5" fill="#30cc5a" stroke="none"/>
<rect x="920.50" y="323.6" width="2.2" height="17.8" fill="#f63538"/>
<rect x="916.65" y="329.6" width="9.9" height="5.8" fill="#f63538"/>
<rect x="920.50" y="323.9" width="2.2" height="17.2" fill="#f63538" stroke="none"/>
<rect x="932.20" y="341.4" width="2.2" height="23.3" fill="#f63538"/>
<rect x="928.35" y="341.4" width="9.9" height="15.5" fill="#f63538"/>
<rect x="932.20" y="341.7" width="2.2" height="22.7" fill="#f63538" stroke="none"/>
<rect x="943.90" y="331.6" width="2.2" height="27.3" fill="#30cc5a"/>
<rect x="940.05" y="337.4" width="9.9" height="11.8" fill="#30cc5a"/>
<rect x="943.90" y="331.9" width="2.2" height="26.7" fill="#30cc5a" stroke="none"/>
<rect x="955.60" y="255.1" width="2.2" height="78.5" fill="#30cc5a"/>
<rect x="951.75" y="259.1" width="9.9" height="70.5" fill="#30cc5a"/>
<rect x="955.60" y="255.4" width="2.2" height="77.9" fill="#30cc5a" stroke="none"/>
<rect x="967.30" y="217.9" width="2.2" height="109.7" fill="#f63538"/>
<rect x="963.45" y="251.1" width="9.9" height="53.2" fill="#f63538"/>
<rect x="967.30" y="218.2" width="2.2" height="109.1" fill="#f63538" stroke="none"/>
<rect x="979.00" y="276.8" width="2.2" height="47.0" fill="#30cc5a"/>
<rect x="975.15" y="284.6" width="9.9" height="19.7" fill="#30cc5a"/>
<rect x="979.00" y="277.1" width="2.2" height="46.4" fill="#30cc5a" stroke="none"/>
<rect x="990.70" y="272.8" width="2.2" height="47.0" fill="#f63538"/>
<rect x="986.85" y="284.6" width="9.9" height="23.4" fill="#f63538"/>
<rect x="990.70" y="273.1" width="2.2" height="46.4" fill="#f63538" stroke="none"/>
<rect x="1002.40" y="299.6" width="2.2" height="18.2" fill="#30cc5a"/>
<rect x="998.55" y="307.8" width="9.9" height="2.5" fill="#30cc5a"/>
<rect x="1002.40" y="299.9" width="2.2" height="17.6" fill="#30cc5a" stroke="none"/>
<rect x="1014.10" y="304.0" width="2.2" height="41.1" fill="#f63538"/>
<rect x="1010.25" y="308.0" width="9.9" height="35.4" fill="#f63538"/>
<rect x="1014.10" y="304.3" width="2.2" height="40.5" fill="#f63538" stroke="none"/>
<rect x="1025.80" y="288.5" width="2.2" height="50.9" fill="#30cc5a"/>
<rect x="1021.95" y="305.9" width="9.9" height="31.5" fill="#30cc5a"/>
<rect x="1025.80" y="288.8" width="2.2" height="50.3" fill="#30cc5a" stroke="none"/>
<rect x="1037.50" y="282.6" width="2.2" height="35.2" fill="#f63538"/>
<rect x="1033.65" y="302.1" width="9.9" height="11.9" fill="#f63538"/>
<rect x="1037.50" y="282.9" width="2.2" height="34.6" fill="#f63538" stroke="none"/>
<rect x="1049.20" y="272.8" width="2.2" height="45.0" fill="#30cc5a"/>
<rect x="1045.35" y="282.6" width="9.9" height="35.2" fill="#30cc5a"/>
<rect x="1049.20" y="273.1" width="2.2" height="44.4" fill="#30cc5a" stroke="none"/>
<rect x="1060.90" y="265.0" width="2.2" height="31.7" fill="#f63538"/>
<rect x="1057.05" y="276.8" width="9.9" height="3.9" fill="#f63538"/>
<rect x="1060.90" y="265.3" width="2.2" height="31.1" fill="#f63538" stroke="none"/>
<rect x="1072.60" y="257.1" width="2.2" height="68.5" fill="#f63538"/>
<rect x="1068.75" y="263.0" width="9.9" height="41.3" fill="#f63538"/>
<rect x="1072.60" y="257.4" width="2.2" height="67.9" fill="#f63538" stroke="none"/>
<rect x="1084.30" y="288.5" width="2.2" height="76.2" fill="#f63538"/>
<rect x="1080.45" y="300.3" width="9.9" height="56.6" fill="#f63538"/>
<rect x="1084.30" y="288.8" width="2.2" height="75.6" fill="#f63538" stroke="none"/>
<rect x="1096.00" y="442.6" width="2.2" height="62.7" fill="#f63538"/>
<rect x="1092.15" y="468.4" width="9.9" height="9.8" fill="#f63538"/>
<rect x="1096.00" y="442.9" width="2.2" height="62.1" fill="#f63538" stroke="none"/>
<rect x="1107.70" y="431.0" width="2.2" height="40.4" fill="#30cc5a"/>
<rect x="1103.85" y="452.1" width="9.9" height="15.5" fill="#30cc5a"/>
<rect x="1107.70" y="431.3" width="2.2" height="39.8" fill="#30cc5a" stroke="none"/>
<rect x="1119.40" y="462.1" width="2.2" height="35.1" fill="#f63538"/>
<rect x="1115.55" y="471.9" width="9.9" height="21.3" fill="#f63538"/>
<rect x="1119.40" y="462.4" width="2.2" height="34.5" fill="#f63538" stroke="none"/>
<rect x="1131.10" y="475.6" width="2.2" height="29.6" fill="#f63538"/>
<rect x="1127.25" y="483.7" width="9.9" height="15.5" fill="#f63538"/>
<rect x="1131.10" y="475.9" width="2.2" height="29.0" fill="#f63538" stroke="none"/>
<rect x="1142.80" y="464.1" width="2.2" height="52.4" fill="#f63538"/>
<rect x="1138.95" y="493.2" width="9.9" height="19.5" fill="#f63538"/>
<rect x="1142.80" y="464.4" width="2.2" height="51.8" fill="#f63538" stroke="none"/>
<rect x="1154.50" y="501.2" width="2.2" height="31.1" fill="#30cc5a"/>
<rect x="1150.65" y="518.7" width="9.9" height="3.8" fill="#30cc5a"/>
<rect x="1154.50" y="501.5" width="2.2" height="30.5" fill="#30cc5a" stroke="none"/>
<rect x="1166.20" y="505.2" width="2.2" height="21.3" fill="#30cc5a"/>
<rect x="1162.35" y="507.0" width="9.9" height="7.8" fill="#30cc5a"/>
<rect x="1166.20" y="505.5" width="2.2" height="20.7" fill="#30cc5a" stroke="none"/>
<rect x="1177.90" y="513.0" width="2.2" height="21.3" fill="#f63538"/>
<rect x="1174.05" y="516.7" width="9.9" height="5.8" fill="#f63538"/>
<rect x="1177.90" y="513.3" width="2.2" height="20.7" fill="#f63538" stroke="none"/>
<rect x="1189.60" y="497.2" width="2.2" height="35.1" fill="#30cc5a"/>
<rect x="1185.75" y="505.2" width="9.9" height="15.5" fill="#30cc5a"/>
<rect x="1189.60" y="497.5" width="2.2" height="34.5" fill="#30cc5a" stroke="none"/>
<rect x="1201.30" y="479.6" width="2.2" height="27.3" fill="#f63538"/>
<rect x="1197.45" y="479.6" width="9.9" height="25.6" fill="#f63538"/>
<rect x="1201.30" y="479.9" width="2.2" height="26.7" fill="#f63538" stroke="none"/>
<rect x="1213.00" y="489.4" width="2.2" height="15.8" fill="#30cc5a"/>
<rect x="1209.15" y="491.2" width="9.9" height="2.5" fill="#30cc5a"/>
<rect x="1213.00" y="489.7" width="2.2" height="15.2" fill="#30cc5a" stroke="none"/>
<rect x="1224.70" y="468.1" width="2.2" height="44.6" fill="#f63538"/>
<rect x="1220.85" y="477.6" width="9.9" height="31.3" fill="#f63538"/>
<rect x="1224.70" y="468.4" width="2.2" height="44.0" fill="#f63538" stroke="none"/>
<rect x="1236.40" y="503.2" width="2.2" height="23.3" fill="#30cc5a"/>
<rect x="1232.55" y="514.7" width="9.9" height="6.0" fill="#30cc5a"/>
<rect x="1236.40" y="503.5" width="2.2" height="22.7" fill="#30cc5a" stroke="none"/>
<rect x="1248.10" y="514.7" width="2.2" height="35.1" fill="#f63538"/>
<rect x="1244.25" y="520.8" width="9.9" height="23.1" fill="#f63538"/>
<rect x="1248.10" y="515.0" width="2.2" height="34.5" fill="#f63538" stroke="none"/>
<rect x="1259.80" y="551.6" width="2.2" height="43.4" fill="#f63538"/>
<rect x="1255.95" y="551.6" width="9.9" height="29.7" fill="#f63538"/>
<rect x="1259.80" y="551.9" width="2.2" height="42.8" fill="#f63538" stroke="none"/>
<rect x="1271.50" y="567.0" width="2.2" height="28.1" fill="#f63538"/>
<rect x="1267.65" y="581.3" width="9.9" height="10.0" fill="#f63538"/>
<rect x="1271.50" y="567.3" width="2.2" height="27.5" fill="#f63538" stroke="none"/>
<rect x="1283.20" y="591.3" width="2.2" height="25.1" fill="#f63538"/>
<rect x="1279.35" y="595.1" width="9.9" height="3.8" fill="#f63538"/>
<rect x="1283.20" y="591.6" width="2.2" height="24.5" fill="#f63538" stroke="none"/>
<rect x="1294.90" y="614.6" width="2.2" height="23.1" fill="#f63538"/>
<rect x="1291.05" y="618.1" width="9.9" height="7.8" fill="#f63538"/>
<rect x="1294.90" y="614.9" width="2.2" height="22.5" fill="#f63538" stroke="none"/>
<rect x="1306.60" y="575.5" width="2.2" height="79.7" fill="#f63538"/>
<rect x="1302.75" y="577.0" width="9.9" height="62.7" fill="#f63538"/>
<rect x="1306.60" y="575.8" width="2.2" height="79.1" fill="#f63538" stroke="none"/>
<rect x="1318.30" y="633.9" width="2.2" height="58.9" fill="#f63538"/>
<rect x="1314.45" y="641.5" width="9.9" height="49.4" fill="#f63538"/>
<rect x="1318.30" y="634.2" width="2.2" height="58.3" fill="#f63538" stroke="none"/>
<rect x="1330.00" y="659.0" width="2.2" height="27.6" fill="#30cc5a"/>
<rect x="1326.15" y="662.8" width="9.9" height="20.1" fill="#30cc5a"/>
<rect x="1330.00" y="659.3" width="2.2" height="27.0" fill="#30cc5a" stroke="none"/>
<rect x="1341.70" y="645.2" width="2.2" height="31.3" fill="#30cc5a"/>
<rect x="1337.85" y="651.5" width="9.9" height="2.5" fill="#30cc5a"/>
<rect x="1341.70" y="645.5" width="2.2" height="30.7" fill="#30cc5a" stroke="none"/>
<rect x="1353.40" y="651.5" width="2.2" height="33.1" fill="#30cc5a"/>
<rect x="1349.55" y="659.0" width="9.9" height="7.5" fill="#30cc5a"/>
<rect x="1353.40" y="651.8" width="2.2" height="32.5" fill="#30cc5a" stroke="none"/>
<rect x="1365.10" y="651.5" width="2.2" height="21.3" fill="#f63538"/>
<rect x="1361.25" y="667.0" width="9.9" height="2.5" fill="#f63538"/>
<rect x="1365.10" y="651.8" width="2.2" height="20.7" fill="#f63538" stroke="none"/>
<rect x="1376.80" y="647.7" width="2.2" height="19.3" fill="#f63538"/>
<rect x="1372.95" y="661.0" width="9.9" height="4.3" fill="#f63538"/>
<rect x="1376.80" y="648.0" width="2.2" height="18.7" fill="#f63538" stroke="none"/>
<rect x="1388.50" y="637.7" width="2.2" height="35.1" fill="#30cc5a"/>
<rect x="1384.65" y="645.2" width="9.9" height="27.6" fill="#30cc5a"/>
<rect x="1388.50" y="638.0" width="2.2" height="34.5" fill="#30cc5a" stroke="none"/>
<rect x="1400.20" y="647.7" width="2.2" height="58.1" fill="#f63538"/>
<rect x="1396.35" y="651.5" width="9.9" height="54.4" fill="#f63538"/>
<rect x="1400.20" y="648.0" width="2.2" height="57.5" fill="#f63538" stroke="none"/>
<rect x="1411.90" y="696.6" width="2.2" height="17.0" fill="#30cc5a"/>
<rect x="1408.05" y="697.8" width="9.9" height="8.0" fill="#30cc5a"/>
<rect x="1411.90" y="696.9" width="2.2" height="16.4" fill="#30cc5a" stroke="none"/>
<rect x="1423.60" y="697.8" width="2.2" height="19.5" fill="#f63538"/>
<rect x="1419.75" y="703.5" width="9.9" height="2.5" fill="#f63538"/>
<rect x="1423.60" y="698.1" width="2.2" height="18.9" fill="#f63538" stroke="none"/>
<rect x="1435.30" y="694.1" width="2.2" height="35.3" fill="#f63538"/>
<rect x="1431.45" y="702.4" width="9.9" height="25.6" fill="#f63538"/>
<rect x="1435.30" y="694.4" width="2.2" height="34.7" fill="#f63538" stroke="none"/>
<rect x="1447.00" y="707.9" width="2.2" height="25.6" fill="#30cc5a"/>
<rect x="1443.15" y="719.4" width="9.9" height="6.0" fill="#30cc5a"/>
<rect x="1447.00" y="708.2" width="2.2" height="25.0" fill="#30cc5a" stroke="none"/>
<rect x="1458.70" y="719.4" width="2.2" height="31.1" fill="#f63538"/>
<rect x="1454.85" y="725.4" width="9.9" height="15.5" fill="#f63538"/>
<rect x="1458.70" y="719.7" width="2.2" height="30.5" fill="#f63538" stroke="none"/>
<rect x="1470.40" y="709.9" width="2.2" height="27.3" fill="#30cc5a"/>
<rect x="1466.55" y="719.4" width="9.9" height="17.8" fill="#30cc5a"/>
<rect x="1470.40" y="710.2" width="2.2" height="26.7" fill="#30cc5a" stroke="none"/>
<rect x="1482.10" y="709.9" width="2.2" height="15.5" fill="#30cc5a"/>
<rect x="1478.25" y="715.6" width="9.9" height="2.5" fill="#30cc5a"/>
<rect x="1482.10" y="710.2" width="2.2" height="14.9" fill="#30cc5a" stroke="none"/>
<rect x="1493.80" y="702.4" width="2.2" height="11.5" fill="#30cc5a"/>
<rect x="1489.95" y="706.1" width="9.9" height="5.8" fill="#30cc5a"/>
<rect x="1493.80" y="702.7" width="2.2" height="10.9" fill="#30cc5a" stroke="none"/>
<rect x="1505.50" y="672.8" width="2.2" height="37.1" fill="#30cc5a"/>
<rect x="1501.65" y="688.3" width="9.9" height="17.8" fill="#30cc5a"/>
<rect x="1505.50" y="673.1" width="2.2" height="36.5" fill="#30cc5a" stroke="none"/>
<rect x="1517.20" y="688.3" width="2.2" height="33.3" fill="#f63538"/>
<rect x="1513.35" y="688.3" width="9.9" height="21.6" fill="#f63538"/>
<rect x="1517.20" y="688.6" width="2.2" height="32.7" fill="#f63538" stroke="none"/>
<rect x="1528.90" y="702.4" width="2.2" height="17.3" fill="#f63538"/>
<rect x="1525.05" y="711.9" width="9.9" height="6.0" fill="#f63538"/>
<rect x="1528.90" y="702.7" width="2.2" height="16.7" fill="#f63538" stroke="none"/>
<rect x="1540.60" y="713.9" width="2.2" height="15.5" fill="#30cc5a"/>
<rect x="1536.75" y="721.3" width="9.9" height="2.5" fill="#30cc5a"/>
<rect x="1540.60" y="714.2" width="2.2" height="14.9" fill="#30cc5a" stroke="none"/>
<rect x="1552.30" y="704.1" width="2.2" height="36.8" fill="#f63538"/>
<rect x="1548.45" y="715.9" width="9.9" height="25.1" fill="#f63538"/>
<rect x="1552.30" y="704.4" width="2.2" height="36.2" fill="#f63538" stroke="none"/>
<rect x="1564.00" y="729.4" width="2.2" height="23.1" fill="#30cc5a"/>
<rect x="1560.15" y="738.7" width="9.9" height="2.5" fill="#30cc5a"/>
<rect x="1564.00" y="729.7" width="2.2" height="22.5" fill="#30cc5a" stroke="none"/>
<rect x="1575.70" y="729.4" width="2.2" height="21.1" fill="#30cc5a"/>
<rect x="1571.85" y="732.9" width="9.9" height="13.8" fill="#30cc5a"/>
<rect x="1575.70" y="729.7" width="2.2" height="20.5" fill="#30cc5a" stroke="none"/>
<rect x="1587.40" y="735.4" width="2.2" height="17.0" fill="#30cc5a"/>
<rect x="1583.55" y="735.4" width="9.9" height="3.5" fill="#30cc5a"/>
<rect x="1587.40" y="735.7" width="2.2" height="16.4" fill="#30cc5a" stroke="none"/>
<rect x="1599.10" y="657.2" width="2.2" height="76.2" fill="#30cc5a"/>
<rect x="1595.25" y="678.8" width="9.9" height="54.6" fill="#30cc5a"/>
<rect x="1599.10" y="657.5" width="2.2" height="75.6" fill="#30cc5a" stroke="none"/>
<rect x="1610.80" y="635.7" width="2.2" height="29.1" fill="#30cc5a"/>
<rect x="1606.95" y="639.7" width="9.9" height="23.1" fill="#30cc5a"/>
<rect x="1610.80" y="636.0" width="2.2" height="28.5" fill="#30cc5a" stroke="none"/>
<rect x="1622.50" y="647.7" width="2.2" height="48.6" fill="#f63538"/>
<rect x="1618.65" y="657.2" width="9.9" height="35.1" fill="#f63538"/>
<rect x="1622.50" y="648.0" width="2.2" height="48.0" fill="#f63538" stroke="none"/>
<rect x="1634.20" y="692.3" width="2.2" height="54.9" fill="#f63538"/>
<rect x="1630.35" y="692.3" width="9.9" height="54.9" fill="#f63538"/>
<rect x="1634.20" y="692.6" width="2.2" height="54.3" fill="#f63538" stroke="none"/>
<rect x="1645.90" y="713.9" width="2.2" height="29.1" fill="#30cc5a"/>
<rect x="1642.05" y="723.4" width="9.9" height="19.5" fill="#30cc5a"/>
<rect x="1645.90" y="714.2" width="2.2" height="28.5" fill="#30cc5a" stroke="none"/>
<rect x="1657.60" y="700.4" width="2.2" height="29.1" fill="#f63538"/>
<rect x="1653.75" y="707.9" width="9.9" height="19.5" fill="#f63538"/>
<rect x="1657.60" y="700.7" width="2.2" height="28.5" fill="#f63538" stroke="none"/>
<rect x="1669.30" y="715.9" width="2.2" height="21.1" fill="#f63538"/>
<rect x="1665.45" y="725.4" width="9.9" height="7.5" fill="#f63538"/>
<rect x="1669.30" y="716.2" width="2.2" height="20.5" fill="#f63538" stroke="none"/>
<rect x="1681.00" y="707.9" width="2.2" height="17.5" fill="#30cc5a"/>
<rect x="1677.15" y="713.9" width="9.9" height="9.5" fill="#30cc5a"/>
<rect x="1681.00" y="708.2" width="2.2" height="16.9" fill="#30cc5a" stroke="none"/>
<rect x="1692.70" y="702.4" width="2.2" height="21.1" fill="#30cc5a"/>
<rect x="1688.85" y="713.6" width="9.9" height="2.5" fill="#30cc5a"/>
<rect x="1692.70" y="702.7" width="2.2" height="20.5" fill="#30cc5a" stroke="none"/>
<rect x="1704.40" y="709.9" width="2.2" height="9.8" fill="#f63538"/>
<rect x="1700.55" y="711.1" width="9.9" height="4.3" fill="#f63538"/>
<rect x="1704.40" y="710.2" width="2.2" height="9.2" fill="#f63538" stroke="none"/>
<rect x="1716.10" y="709.9" width="2.2" height="13.5" fill="#30cc5a"/>
<rect x="1712.25" y="713.6" width="9.9" height="2.5" fill="#30cc5a"/>
<rect x="1716.10" y="710.2" width="2.2" height="12.9" fill="#30cc5a" stroke="none"/>
<rect x="1727.80" y="715.9" width="2.2" height="15.5" fill="#f63538"/>
<rect x="1723.95" y="721.3" width="9.9" height="2.5" fill="#f63538"/>
<rect x="1727.80" y="716.2" width="2.2" height="14.9" fill="#f63538" stroke="none"/>
<rect x="1739.50" y="711.9" width="2.2" height="9.8" fill="#30cc5a"/>
<rect x="1735.65" y="719.4" width="9.9" height="2.5" fill="#30cc5a"/>
<rect x="1739.50" y="712.2" width="2.2" height="9.2" fill="#30cc5a" stroke="none"/>
<rect x="1751.20" y="713.9" width="2.2" height="9.5" fill="#f63538"/>
<rect x="1747.35" y="719.4" width="9.9" height="2.5" fill="#f63538"/>
<rect x="1751.20" y="714.2" width="2.2" height="8.9" fill="#f63538" stroke="none"/>
<rect x="1762.90" y="672.8" width="2.2" height="52.6" fill="#30cc5a"/>
<rect x="1759.05" y="686.6" width="9.9" height="35.1" fill="#30cc5a"/>
<rect x="1762.90" y="673.1" width="2.2" height="52.0" fill="#30cc5a" stroke="none"/>
<rect x="1774.60" y="670.8" width="2.2" height="35.1" fill="#f63538"/>
<rect x="1770.75" y="678.8" width="9.9" height="13.5" fill="#f63538"/>
<rect x="1774.60" y="671.1" width="2.2" height="34.5" fill="#f63538" stroke="none"/>
<rect x="1786.30" y="676.8" width="2.2" height="21.6" fill="#30cc5a"/>
<rect x="1782.45" y="680.8" width="9.9" height="7.8" fill="#30cc5a"/>
<rect x="1786.30" y="677.1" width="2.2" height="21.0" fill="#30cc5a" stroke="none"/>
<rect x="1798.00" y="665.3" width="2.2" height="33.1" fill="#30cc5a"/>
<rect x="1794.15" y="674.8" width="9.9" height="4.0" fill="#30cc5a"/>
<rect x="1798.00" y="665.6" width="2.2" height="32.5" fill="#30cc5a" stroke="none"/>
<rect x="1809.70" y="614.1" width="2.2" height="58.6" fill="#30cc5a"/>
<rect x="1805.85" y="628.1" width="9.9" height="42.9" fill="#30cc5a"/>
<rect x="1809.70" y="614.4" width="2.2" height="58.0" fill="#30cc5a" stroke="none"/>
<rect x="1821.40" y="598.5" width="2.2" height="58.9" fill="#f63538"/>
<rect x="1817.55" y="620.1" width="9.9" height="27.6" fill="#f63538"/>
<rect x="1821.40" y="598.8" width="2.2" height="58.3" fill="#f63538" stroke="none"/>
<rect x="1833.10" y="639.6" width="2.2" height="31.3" fill="#f63538"/>
<rect x="1829.25" y="647.6" width="9.9" height="11.5" fill="#f63538"/>
<rect x="1833.10" y="639.9" width="2.2" height="30.7" fill="#f63538" stroke="none"/>
<rect x="1844.80" y="618.1" width="2.2" height="27.6" fill="#f63538"/>
<rect x="1840.95" y="630.1" width="9.9" height="9.5" fill="#f63538"/>
<rect x="1844.80" y="618.4" width="2.2" height="27.0" fill="#f63538" stroke="none"/>
<rect x="1856.50" y="563.3" width="2.2" height="43.6" fill="#30cc5a"/>
<rect x="1852.65" y="582.9" width="9.9" height="24.1" fill="#30cc5a"/>
<rect x="1856.50" y="563.6" width="2.2" height="43.0" fill="#30cc5a" stroke="none"/>
<rect x="1868.20" y="563.3" width="2.2" height="41.4" fill="#f63538"/>
<rect x="1864.35" y="574.9" width="9.9" height="10.5" fill="#f63538"/>
<rect x="1868.20" y="563.6" width="2.2" height="40.8" fill="#f63538" stroke="none"/>
<rect x="1879.90" y="612.1" width="2.2" height="41.9" fill="#f63538"/>
<rect x="1876.05" y="628.1" width="9.9" height="5.8" fill="#f63538"/>
<rect x="1879.90" y="612.4" width="2.2" height="41.3" fill="#f63538" stroke="none"/>
<rect x="1891.60" y="602.5" width="2.2" height="33.3" fill="#30cc5a"/>
<rect x="1887.75" y="606.3" width="9.9" height="27.6" fill="#30cc5a"/>
<rect x="1891.60" y="602.8" width="2.2" height="32.7" fill="#30cc5a" stroke="none"/>
<rect x="1903.30" y="574.9" width="2.2" height="28.1" fill="#30cc5a"/>
<rect x="1899.45" y="582.9" width="9.9" height="8.0" fill="#30cc5a"/>
<rect x="1903.30" y="575.2" width="2.2" height="27.5" fill="#30cc5a" stroke="none"/>
<rect x="1915.00" y="538.3" width="2.2" height="43.1" fill="#30cc5a"/>
<rect x="1911.15" y="563.3" width="9.9" height="14.5" fill="#30cc5a"/>
<rect x="1915.00" y="538.6" width="2.2" height="42.5" fill="#30cc5a" stroke="none"/>
<rect x="1926.70" y="524.2" width="2.2" height="37.3" fill="#30cc5a"/>
<rect x="1922.85" y="538.3" width="9.9" height="21.6" fill="#30cc5a"/>
<rect x="1926.70" y="524.5" width="2.2" height="36.7" fill="#30cc5a" stroke="none"/>
<rect x="1938.40" y="526.2" width="2.2" height="35.3" fill="#f63538"/>
<rect x="1934.55" y="526.2" width="9.9" height="29.6" fill="#f63538"/>
<rect x="1938.40" y="526.5" width="2.2" height="34.7" fill="#f63538" stroke="none"/>
<rect x="1950.10" y="536.3" width="2.2" height="31.1" fill="#30cc5a"/>
<rect x="1946.25" y="552.1" width="9.9" height="5.8" fill="#30cc5a"/>
<rect x="1950.10" y="536.6" width="2.2" height="30.5" fill="#30cc5a" stroke="none"/>
<rect x="1961.80" y="528.2" width="2.2" height="49.1" fill="#f63538"/>
<rect x="1957.95" y="540.3" width="9.9" height="23.3" fill="#f63538"/>
<rect x="1961.80" y="528.5" width="2.2" height="48.5" fill="#f63538" stroke="none"/>
<rect x="1973.50" y="528.2" width="2.2" height="51.1" fill="#f63538"/>
<rect x="1969.65" y="548.0" width="9.9" height="19.5" fill="#f63538"/>
<rect x="1973.50" y="528.5" width="2.2" height="50.5" fill="#f63538" stroke="none"/>
<rect x="1985.20" y="565.3" width="2.2" height="37.6" fill="#30cc5a"/>
<rect x="1981.35" y="588.6" width="9.9" height="2.5" fill="#30cc5a"/>
<rect x="1985.20" y="565.6" width="2.2" height="37.0" fill="#30cc5a" stroke="none"/>
<rect x="1996.90" y="581.1" width="2.2" height="41.4" fill="#f63538"/>
<rect x="1993.05" y="592.9" width="9.9" height="6.0" fill="#f63538"/>
<rect x="1996.90" y="581.4" width="2.2" height="40.8" fill="#f63538" stroke="none"/>
<rect x="2008.60" y="555.8" width="2.2" height="40.9" fill="#30cc5a"/>
<rect x="2004.75" y="557.8" width="9.9" height="38.8" fill="#30cc5a"/>
<rect x="2008.60" y="556.1" width="2.2" height="40.3" fill="#30cc5a" stroke="none"/>
<rect x="2020.30" y="532.3" width="2.2" height="29.3" fill="#30cc5a"/>
<rect x="2016.45" y="538.3" width="9.9" height="19.5" fill="#30cc5a"/>
<rect x="2020.30" y="532.6" width="2.2" height="28.7" fill="#30cc5a" stroke="none"/>
<rect x="2032.00" y="534.3" width="2.2" height="60.7" fill="#f63538"/>
<rect x="2028.15" y="548.0" width="9.9" height="31.3" fill="#f63538"/>
<rect x="2032.00" y="534.6" width="2.2" height="60.1" fill="#f63538" stroke="none"/>
<rect x="2043.70" y="542.3" width="2.2" height="31.1" fill="#30cc5a"/>
<rect x="2039.85" y="546.0" width="9.9" height="23.6" fill="#30cc5a"/>
<rect x="2043.70" y="542.6" width="2.2" height="30.5" fill="#30cc5a" stroke="none"/>
<rect x="2055.40" y="503.2" width="2.2" height="44.9" fill="#30cc5a"/>
<rect x="2051.55" y="509.2" width="9.9" height="36.8" fill="#30cc5a"/>
<rect x="2055.40" y="503.5" width="2.2" height="44.3" fill="#30cc5a" stroke="none"/>
<rect x="2067.10" y="483.1" width="2.2" height="24.1" fill="#30cc5a"/>
<rect x="2063.25" y="487.6" width="9.9" height="13.5" fill="#30cc5a"/>
<rect x="2067.10" y="483.4" width="2.2" height="23.5" fill="#30cc5a" stroke="none"/>
<rect x="2078.80" y="440.5" width="2.2" height="35.3" fill="#30cc5a"/>
<rect x="2074.95" y="446.5" width="9.9" height="25.1" fill="#30cc5a"/>
<rect x="2078.80" y="440.8" width="2.2" height="34.7" fill="#30cc5a" stroke="none"/>
<rect x="2090.50" y="448.0" width="2.2" height="57.1" fill="#f63538"/>
<rect x="2086.65" y="452.1" width="9.9" height="49.1" fill="#f63538"/>
<rect x="2090.50" y="448.3" width="2.2" height="56.5" fill="#f63538" stroke="none"/>
<rect x="2102.20" y="495.2" width="2.2" height="31.6" fill="#30cc5a"/>
<rect x="2098.35" y="505.2" width="9.9" height="11.5" fill="#30cc5a"/>
<rect x="2102.20" y="495.5" width="2.2" height="31.0" fill="#30cc5a" stroke="none"/>
<rect x="2113.90" y="497.2" width="2.2" height="43.1" fill="#f63538"/>
<rect x="2110.05" y="507.2" width="9.9" height="19.5" fill="#f63538"/>
<rect x="2113.90" y="497.5" width="2.2" height="42.5" fill="#f63538" stroke="none"/>
<rect x="2125.60" y="507.2" width="2.2" height="29.1" fill="#30cc5a"/>
<rect x="2121.75" y="513.2" width="9.9" height="13.5" fill="#30cc5a"/>
<rect x="2125.60" y="507.5" width="2.2" height="28.5" fill="#30cc5a" stroke="none"/>
<rect x="2137.30" y="475.9" width="2.2" height="34.8" fill="#30cc5a"/>
<rect x="2133.45" y="485.6" width="9.9" height="19.5" fill="#30cc5a"/>
<rect x="2137.30" y="476.2" width="2.2" height="34.2" fill="#30cc5a" stroke="none"/>
<rect x="2149.00" y="470.1" width="2.2" height="46.6" fill="#f63538"/>
<rect x="2145.15" y="485.6" width="9.9" height="27.6" fill="#f63538"/>
<rect x="2149.00" y="470.4" width="2.2" height="46.0" fill="#f63538" stroke="none"/>
<rect x="2160.70" y="520.7" width="2.2" height="44.9" fill="#f63538"/>
<rect x="2156.85" y="528.5" width="9.9" height="11.8" fill="#f63538"/>
<rect x="2160.70" y="521.0" width="2.2" height="44.3" fill="#f63538" stroke="none"/>
<rect x="2172.40" y="522.7" width="2.2" height="35.1" fill="#f63538"/>
<rect x="2168.55" y="530.5" width="9.9" height="19.5" fill="#f63538"/>
<rect x="2172.40" y="523.0" width="2.2" height="34.5" fill="#f63538" stroke="none"/>
<rect x="2184.10" y="571.4" width="2.2" height="56.6" fill="#f63538"/>
<rect x="2180.25" y="587.1" width="9.9" height="21.6" fill="#f63538"/>
<rect x="2184.10" y="571.7" width="2.2" height="56.0" fill="#f63538" stroke="none"/>
<rect x="2195.80" y="587.1" width="2.2" height="48.9" fill="#30cc5a"/>
<rect x="2191.95" y="602.7" width="9.9" height="31.6" fill="#30cc5a"/>
<rect x="2195.80" y="587.4" width="2.2" height="48.3" fill="#30cc5a" stroke="none"/>
<rect x="2207.50" y="573.4" width="2.2" height="41.4" fill="#30cc5a"/>
<rect x="2203.65" y="575.4" width="9.9" height="19.5" fill="#30cc5a"/>
<rect x="2207.50" y="573.7" width="2.2" height="40.8" fill="#30cc5a" stroke="none"/>
<rect x="2219.20" y="530.3" width="2.2" height="72.7" fill="#f63538"/>
<rect x="2215.35" y="530.3" width="9.9" height="58.6" fill="#f63538"/>
<rect x="2219.20" y="530.6" width="2.2" height="72.1" fill="#f63538" stroke="none"/>
<rect x="2230.90" y="596.5" width="2.2" height="51.1" fill="#30cc5a"/>
<rect x="2227.05" y="615.6" width="9.9" height="2.5" fill="#30cc5a"/>
<rect x="2230.90" y="596.8" width="2.2" height="50.5" fill="#30cc5a" stroke="none"/>
<rect x="2242.60" y="612.1" width="2.2" height="51.1" fill="#f63538"/>
<rect x="2238.75" y="620.1" width="9.9" height="19.5" fill="#f63538"/>
<rect x="2242.60" y="612.4" width="2.2" height="50.5" fill="#f63538" stroke="none"/>
<rect x="2254.30" y="592.5" width="2.2" height="63.2" fill="#30cc5a"/>
<rect x="2250.45" y="635.9" width="9.9" height="11.8" fill="#30cc5a"/>
<rect x="2254.30" y="592.8" width="2.2" height="62.6" fill="#30cc5a" stroke="none"/>
<rect x="2266.00" y="602.5" width="2.2" height="45.1" fill="#f63538"/>
<rect x="2262.15" y="623.8" width="9.9" height="12.0" fill="#f63538"/>
<rect x="2266.00" y="602.8" width="2.2" height="44.5" fill="#f63538" stroke="none"/>
<rect x="2277.70" y="598.5" width="2.2" height="72.4" fill="#30cc5a"/>
<rect x="2273.85" y="612.1" width="9.9" height="25.6" fill="#30cc5a"/>
<rect x="2277.70" y="598.8" width="2.2" height="71.8" fill="#30cc5a" stroke="none"/>
<rect x="2289.40" y="612.1" width="2.2" height="23.8" fill="#f63538"/>
<rect x="2285.55" y="618.1" width="9.9" height="9.5" fill="#f63538"/>
<rect x="2289.40" y="612.4" width="2.2" height="23.2" fill="#f63538" stroke="none"/>
</g>
<polyline points="68.4,538.7 148.6,512.2 185.3,493.9 197.0,489.9 266.2,455.4 312.3,432.0 325.7,424.0 349.1,414.3 382.5,402.6 394.2,401.0 407.5,394.6 441.0,383.6 454.3,377.6 477.7,367.6 489.4,363.5 523.8,346.2 547.9,333.5 557.9,330.1 579.6,326.8 594.7,322.4 628.1,316.8 641.5,312.7 651.5,311.1 663.2,311.1 698.3,305.1 710.0,305.1 745.0,299.2 756.7,299.2 768.4,296.8 803.5,296.8 816.9,299.1 838.6,299.1 851.0,301.3 863.3,301.3 874.6,303.0 908.4,303.0 933.5,307.0 956.0,307.0 966.0,308.0 992.4,311.0 1071.3,311.0 1100.0,315.0 1110.0,316.7 1131.7,324.1 1143.4,326.1 1155.1,330.1 1166.8,332.4 1178.5,336.1 1190.2,338.4 1248.7,357.5 1260.4,362.8 1283.8,370.2 1295.5,374.2 1307.2,380.2 1318.9,384.2 1330.6,390.2 1342.3,394.2 1354.0,400.2 1365.7,404.3 1484.3,463.1 1494.3,466.4 1507.0,468.8 1566.2,488.8 1577.9,494.5 1589.6,498.2 1601.3,499.8 1648.0,515.5 1659.7,521.6 1671.4,525.6 1683.1,531.2 1741.6,551.3 1753.3,556.6 1765.0,558.3 1776.7,564.0 1846.4,587.9 1857.7,590.4 1892.8,602.9 1905.3,605.4 1915.3,606.9 1940.4,615.0 1950.4,616.7 1963.0,620.5 1974.2,622.5 1997.5,630.5 2009.3,634.3 2033.0,638.0 2173.5,638.0 2185.0,640.5 2220.4,640.5 2232.0,638.5 2243.7,641.0 2255.4,638.5 2290.5,638.5" fill="none" stroke="#1c40f0" stroke-width="2.6" stroke-linejoin="round" stroke-linecap="round"/>
</g>
<path d="M534.0 761.8H558.0Q564.0 761.8 564.0 767.8V793.3L546.0 802.1999999999999L528.0 793.3V767.8Q528.0 761.8 534.0 761.8Z" fill="#fb5057" stroke="#1a1c26" stroke-width="1.2" stroke-linejoin="round"/>
<path d="M533.2 767.0H558.8V791.0999999999999L546.0 796.1999999999999L533.2 791.0999999999999Z" fill="#47151a"/>
<text transform="translate(545.7 788.2) scale(1 1.19)" font-size="20" fill="#fff" text-anchor="middle" font-weight="bold">E</text>
<path d="M1295.0 757.8L1313.0 766.3V792.1999999999999Q1313.0 798.1999999999999 1307.0 798.1999999999999H1283.0Q1277.0 798.1999999999999 1277.0 792.1999999999999V766.3Z" fill="#00b050" stroke="#1a1c26" stroke-width="1.2" stroke-linejoin="round"/>
<path d="M1295.0 763.8L1307.8 768.5V792.9999999999999H1282.2V768.5Z" fill="#16281d"/>
<text transform="translate(1294.7 788.2) scale(1 1.19)" font-size="20" fill="#fff" text-anchor="middle" font-weight="bold">E</text>
<path d="M2160.3 761.8H2184.3Q2190.3 761.8 2190.3 767.8V793.3L2172.3 802.1999999999999L2154.3 793.3V767.8Q2154.3 761.8 2160.3 761.8Z" fill="#fb5057" stroke="#1a1c26" stroke-width="1.2" stroke-linejoin="round"/>
<path d="M2159.5 767.0H2185.1000000000004V791.0999999999999L2172.3 796.1999999999999L2159.5 791.0999999999999Z" fill="#47151a"/>
<text transform="translate(2172.0 788.2) scale(1 1.19)" font-size="20" fill="#fff" text-anchor="middle" font-weight="bold">E</text>
<text transform="translate(2311.0 106.6) scale(1 1.09)" font-size="20.8" fill="#868da3" stroke="#868da3" stroke-width="0.3">40.00</text>
<text transform="translate(2311.0 184.7) scale(1 1.09)" font-size="20.8" fill="#868da3" stroke="#868da3" stroke-width="0.3">38.00</text>
<text transform="translate(2311.0 262.7) scale(1 1.09)" font-size="20.8" fill="#868da3" stroke="#868da3" stroke-width="0.3">36.00</text>
<text transform="translate(2311.0 340.7) scale(1 1.09)" font-size="20.8" fill="#868da3" stroke="#868da3" stroke-width="0.3">34.00</text>
<text transform="translate(2311.0 418.8) scale(1 1.09)" font-size="20.8" fill="#868da3" stroke="#868da3" stroke-width="0.3">32.00</text>
<text transform="translate(2311.0 496.8) scale(1 1.09)" font-size="20.8" fill="#868da3" stroke="#868da3" stroke-width="0.3">30.00</text>
<text transform="translate(2311.0 574.8) scale(1 1.09)" font-size="20.8" fill="#868da3" stroke="#868da3" stroke-width="0.3">28.00</text>
<text transform="translate(2311.0 652.9) scale(1 1.09)" font-size="20.8" fill="#868da3" stroke="#868da3" stroke-width="0.3">26.00</text>
<text transform="translate(2311.0 730.9) scale(1 1.09)" font-size="20.8" fill="#868da3" stroke="#868da3" stroke-width="0.3">24.00</text>
<text transform="translate(2311.0 808.9) scale(1 1.09)" font-size="20.8" fill="#868da3" stroke="#868da3" stroke-width="0.3">22.00</text>
<text transform="translate(64.5 691.9) scale(1 1.09)" font-size="20.8" fill="#868da3" text-anchor="end" stroke="#868da3" stroke-width="0.3">20M</text>
<text transform="translate(64.5 721.4) scale(1 1.09)" font-size="20.8" fill="#868da3" text-anchor="end" stroke="#868da3" stroke-width="0.3">15M</text>
<text transform="translate(64.5 750.4) scale(1 1.09)" font-size="20.8" fill="#868da3" text-anchor="end" stroke="#868da3" stroke-width="0.3">10M</text>
<text transform="translate(64.5 780.4) scale(1 1.09)" font-size="20.8" fill="#868da3" text-anchor="end" stroke="#868da3" stroke-width="0.3">5M</text>
<text transform="translate(265.3 836.3) scale(1 1.09)" font-size="20.8" fill="#868da3" text-anchor="middle" stroke="#868da3" stroke-width="0.3">Jul</text>
<text transform="translate(522.7 836.3) scale(1 1.09)" font-size="20.8" fill="#868da3" text-anchor="middle" stroke="#868da3" stroke-width="0.3">Aug</text>
<text transform="translate(768.4 836.3) scale(1 1.09)" font-size="20.8" fill="#868da3" text-anchor="middle" stroke="#868da3" stroke-width="0.3">Sep</text>
<text transform="translate(1014.1 836.3) scale(1 1.09)" font-size="20.8" fill="#868da3" text-anchor="middle" stroke="#868da3" stroke-width="0.3">Oct</text>
<text transform="translate(1283.2 836.3) scale(1 1.09)" font-size="20.8" fill="#868da3" text-anchor="middle" stroke="#868da3" stroke-width="0.3">Nov</text>
<text transform="translate(1505.5 836.3) scale(1 1.09)" font-size="20.8" fill="#868da3" text-anchor="middle" stroke="#868da3" stroke-width="0.3">Dec</text>
<text transform="translate(1762.9 836.3) scale(1 1.09)" font-size="20.8" fill="#868da3" text-anchor="middle" stroke="#868da3" stroke-width="0.3">2026</text>
<text transform="translate(1996.9 836.3) scale(1 1.09)" font-size="20.8" fill="#868da3" text-anchor="middle" stroke="#868da3" stroke-width="0.3">Feb</text>
<text transform="translate(2219.2 836.3) scale(1 1.09)" font-size="20.8" fill="#868da3" text-anchor="middle" stroke="#868da3" stroke-width="0.3">Mar</text>
<rect x="2307.2" y="613.5" width="59.7" height="24.4" fill="#f5c13c"/>
<text transform="translate(2311.6 632.7) scale(1 1.09)" font-size="20.8" fill="#20243a" stroke="#20243a" stroke-width="0.8">26.48</text>
<g font-family="'Liberation Serif', 'Times New Roman', serif" font-weight="bold" fill="#fff" stroke="#fff" stroke-width="0.6" font-size="37.6" letter-spacing="-1.0">
<text transform="translate(25.8 38.0) scale(1.055 1)">fınvız</text>
</g>
<circle cx="92.1" cy="15.5" r="4.3" fill="#4fb1fb"/>
<text transform="translate(23.2 89.0) scale(1 1.055)" font-size="46.8" fill="#929bb5" font-weight="bold">MOS</text>
<text transform="translate(2375.0 37.0) scale(1 1.09)" font-size="26" fill="#929bb5" text-anchor="end" font-weight="bold">Tue MAR 10 2026 11:32 AM ET</text>
<text transform="translate(2375.0 80.0) scale(1 1.03)" font-size="28.7" fill="#f3505a" text-anchor="end" font-weight="bold">-0.44 (1.63%)</text>
<text transform="translate(1194.8 80.0) scale(1 1.09)" font-size="28.3" fill="#6a7087" text-anchor="middle" font-weight="bold">DAILY</text>
<text transform="translate(25.0 121.0) scale(1 1.09)" font-size="20.9" fill="#a3a8ba" stroke="#a3a8ba" stroke-width="0.45">Mar 10</text>
<text transform="translate(120.5 121.0) scale(1 1.09)" font-size="20.9" fill="#a3a8ba" stroke="#a3a8ba" stroke-width="0.45">O</text>
<text transform="translate(140.5 121.0) scale(1 1.09)" font-size="20.9" fill="#f3505a" stroke="#f3505a" stroke-width="0.45">26.73</text>
<text transform="translate(222.0 121.0) scale(1 1.09)" font-size="20.9" fill="#a3a8ba" stroke="#a3a8ba" stroke-width="0.45">H</text>
<text transform="translate(239.5 121.0) scale(1 1.09)" font-size="20.9" fill="#f3505a" stroke="#f3505a" stroke-width="0.45">26.91</text>
<text transform="translate(321.5 121.0) scale(1 1.09)" font-size="20.9" fill="#a3a8ba" stroke="#a3a8ba" stroke-width="0.45">L</text>
<text transform="translate(335.0 121.0) scale(1 1.09)" font-size="20.9" fill="#f3505a" stroke="#f3505a" stroke-width="0.45">26.28</text>
<text transform="translate(417.0 121.0) scale(1 1.09)" font-size="20.9" fill="#a3a8ba" stroke="#a3a8ba" stroke-width="0.45">C</text>
<text transform="translate(434.3 121.0) scale(1 1.09)" font-size="20.9" fill="#f3505a" stroke="#f3505a" stroke-width="0.45">26.48</text>
<text transform="translate(516.5 121.0) scale(1 1.09)" font-size="20.9" fill="#a3a8ba" stroke="#a3a8ba" stroke-width="0.45">Vol</text>
<text transform="translate(547.5 121.0) scale(1 1.09)" font-size="20.9" fill="#f3505a" stroke="#f3505a" stroke-width="0.45">2.45M</text>
<text transform="translate(25.0 156.0) scale(1 1.09)" font-size="20.9" fill="#2350f5" stroke="#2350f5" stroke-width="0.4">SMA 80</text>
<text transform="translate(107.8 154.2) scale(1 1.09)" font-size="20.9" fill="#b5b9c8" stroke="#b5b9c8" stroke-width="1.5">·</text>
<text transform="translate(122.5 156.0) scale(1 1.09)" font-size="20.9" fill="#2350f5" stroke="#2350f5" stroke-width="0.4">26.27</text>
</svg>
</body></html>
